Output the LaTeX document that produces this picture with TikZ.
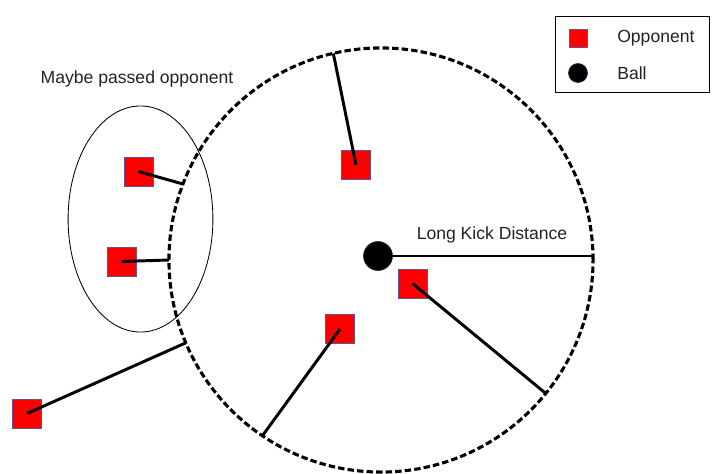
\documentclass[tikz,border=0pt]{standalone}
\usepackage{fontspec}
\setmainfont{Liberation Sans}
\usetikzlibrary{shapes.geometric, calc}
\definecolor{oppRed}{HTML}{FF0000}
\definecolor{oppEdge}{HTML}{6A5090}
\definecolor{ballEdge}{HTML}{1A1F3A}
\definecolor{ink}{HTML}{222222}
\tikzset{
  font=\fontsize{12.5}{15}\selectfont,
  opponent/.style={rectangle, fill=oppRed, draw=oppEdge, line width=0.5pt,
                   minimum size=0.72cm, inner sep=0pt},
  ball/.style={circle, fill=black, draw=ballEdge, line width=0.6pt,
               minimum size=0.72cm, inner sep=0pt},
  kickrange/.style={circle, draw=black, line width=2.2pt, dash pattern=on 4.6pt off 2.2pt,
                    minimum size=10.6cm, inner sep=0pt, outer sep=0pt},
  passzone/.style={ellipse, draw=black, line width=0.6pt,
                   minimum width=3.62cm, minimum height=5.65cm, inner sep=0pt},
  reach/.style={draw=black, line width=2.1pt},
  radius/.style={draw=black, line width=0.9pt},
  legendbox/.style={rectangle, draw=black, line width=0.6pt, fill=white,
                    minimum width=3.85cm, minimum height=1.92cm},
  label/.style={text=ink, inner sep=0pt},
}

\begin{document}
\begin{tikzpicture}[x=0.025cm, y=-0.025cm]
\useasboundingbox (0,0) rectangle (712,474);

% --- range of the long kick and the ball ---
\node[kickrange] (kick) at (381,260) {};
\node[passzone]  (passed) at (140.5,219) {};
\node[label] (passcap) at (137,79) {Maybe passed opponent};
\node[label] (kickcap) at (492,235) {Long Kick Distance};

% --- opponents ---
\node[opponent] (oppA) at (138.5,171.5) {};
\node[opponent] (oppB) at (121.5,261.5) {};
\node[opponent] (oppC) at (356,165) {};
\node[opponent] (oppD) at (412.5,283.5) {};
\node[opponent] (oppE) at (340,329) {};
\node[opponent] (oppF) at (27,413.5) {};

% --- distance of each opponent to the range border ---
\draw[reach] (oppA.center) -- (kick.159.6);
\draw[reach] (oppB.center) -- (kick.180);
\draw[reach] (oppC.center) -- (kick.103.5);
\draw[reach] (oppD.center) -- (kick.-39.8);
\draw[reach] (oppE.center) -- (kick.-124.5);
\draw[reach] (oppF.center) -- (kick.-157);

\node[ball] (ball) at (378,256) {};
\draw[radius] (ball.east) -- (ball.east -| kick.east);

% --- legend ---
\node[legendbox] (legend) at (632,54.5) {};
\node[opponent, minimum size=0.45cm] (legopp) at (578,38) {};
\node[ball, minimum size=0.47cm] (legball) at (578,73) {};
\node[label, anchor=west] (legopptext) at (617,38) {Opponent};
\node[label, anchor=west] (legballtext) at (617,73) {Ball};

\end{tikzpicture}
\end{document}
